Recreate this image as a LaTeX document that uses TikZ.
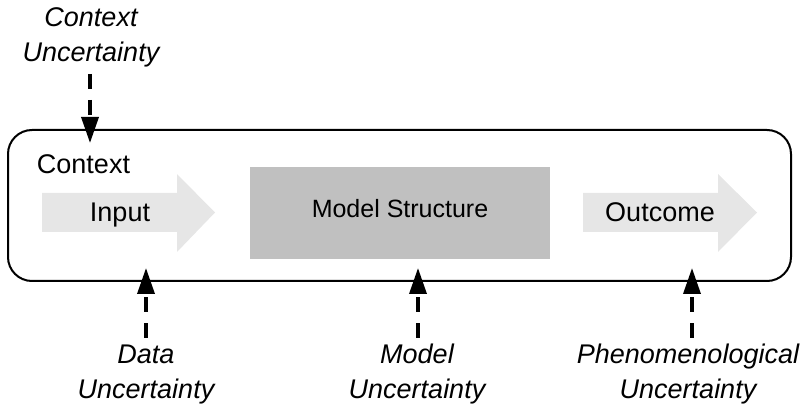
\documentclass[tikz,border=0pt]{standalone}
\usepackage{fontspec}
\setmainfont{Liberation Sans}
\usetikzlibrary{arrows.meta}
\definecolor{arrowgray}{HTML}{E6E6E6}
\definecolor{modelgray}{HTML}{C0C0C0}
\begin{document}
\begin{tikzpicture}[x=1pt,y=-1pt,
  lbl/.style={font=\fontsize{27}{27}\selectfont, inner sep=0pt, anchor=base},
  unc/.style={font=\fontsize{27}{35}\selectfont\itshape, align=center, inner sep=0pt, anchor=base},
  blockarrow/.style={fill=arrowgray, draw=none},
  dasharrow/.style={line width=3.5pt, dash pattern=on 15pt off 11pt,
    -{Triangle[length=26pt,width=17pt]}}
]
\useasboundingbox (0,0) rectangle (804,406);

% context frame
\node[draw, line width=2pt, rounded corners=24pt, minimum width=783pt,
  minimum height=151pt, inner sep=0pt, outer sep=0pt, anchor=north west] (ctx) at (8,130) {};
\node[lbl] (ctxlbl) at (83.5,174) {Context};

% input block arrow
\fill[blockarrow] (42,193) -- (177,193) -- (177,174) -- (215,212.5)
  -- (177,252) -- (177,232) -- (42,232) -- cycle;
\node[lbl] (input) at (120,221.7) {Input};

% model structure
\node[fill=modelgray, minimum width=300pt, minimum height=92pt, inner sep=0pt] (model) at (400,213) {};
\node[lbl, font=\fontsize{25}{25}\selectfont] (mstruct) at (400,218) {Model Structure};

% outcome block arrow
\fill[blockarrow] (583,193) -- (718,193) -- (718,174) -- (757,212.5)
  -- (718,252) -- (718,232) -- (583,232) -- cycle;
\node[lbl] (outcome) at (660,221.7) {Outcome};

% uncertainty labels (anchored at the baseline of the last line)
\node[unc] (ctxu) at (91,62) {Context\\Uncertainty};
\node[unc] (datau) at (146,398) {Data\\Uncertainty};
\node[unc] (modelu) at (417,398) {Model\\Uncertainty};
\node[unc] (phenu) at (688,398) {Phenomenological\\Uncertainty};

% connector ends
\coordinate (ctxu-tail) at (90,74);
\coordinate (ctxu-tip) at (90,143);
\coordinate (datau-tail) at (146,338);
\coordinate (datau-tip) at (146,268);
\coordinate (modelu-tail) at (418,338);
\coordinate (modelu-tip) at (418,268);
\coordinate (phenu-tail) at (692,338);
\coordinate (phenu-tip) at (692,268);

\draw[dasharrow] (ctxu-tail) -- (ctxu-tip);
\draw[dasharrow] (datau-tail) -- (datau-tip);
\draw[dasharrow] (modelu-tail) -- (modelu-tip);
\draw[dasharrow] (phenu-tail) -- (phenu-tip);
\end{tikzpicture}
\end{document}
